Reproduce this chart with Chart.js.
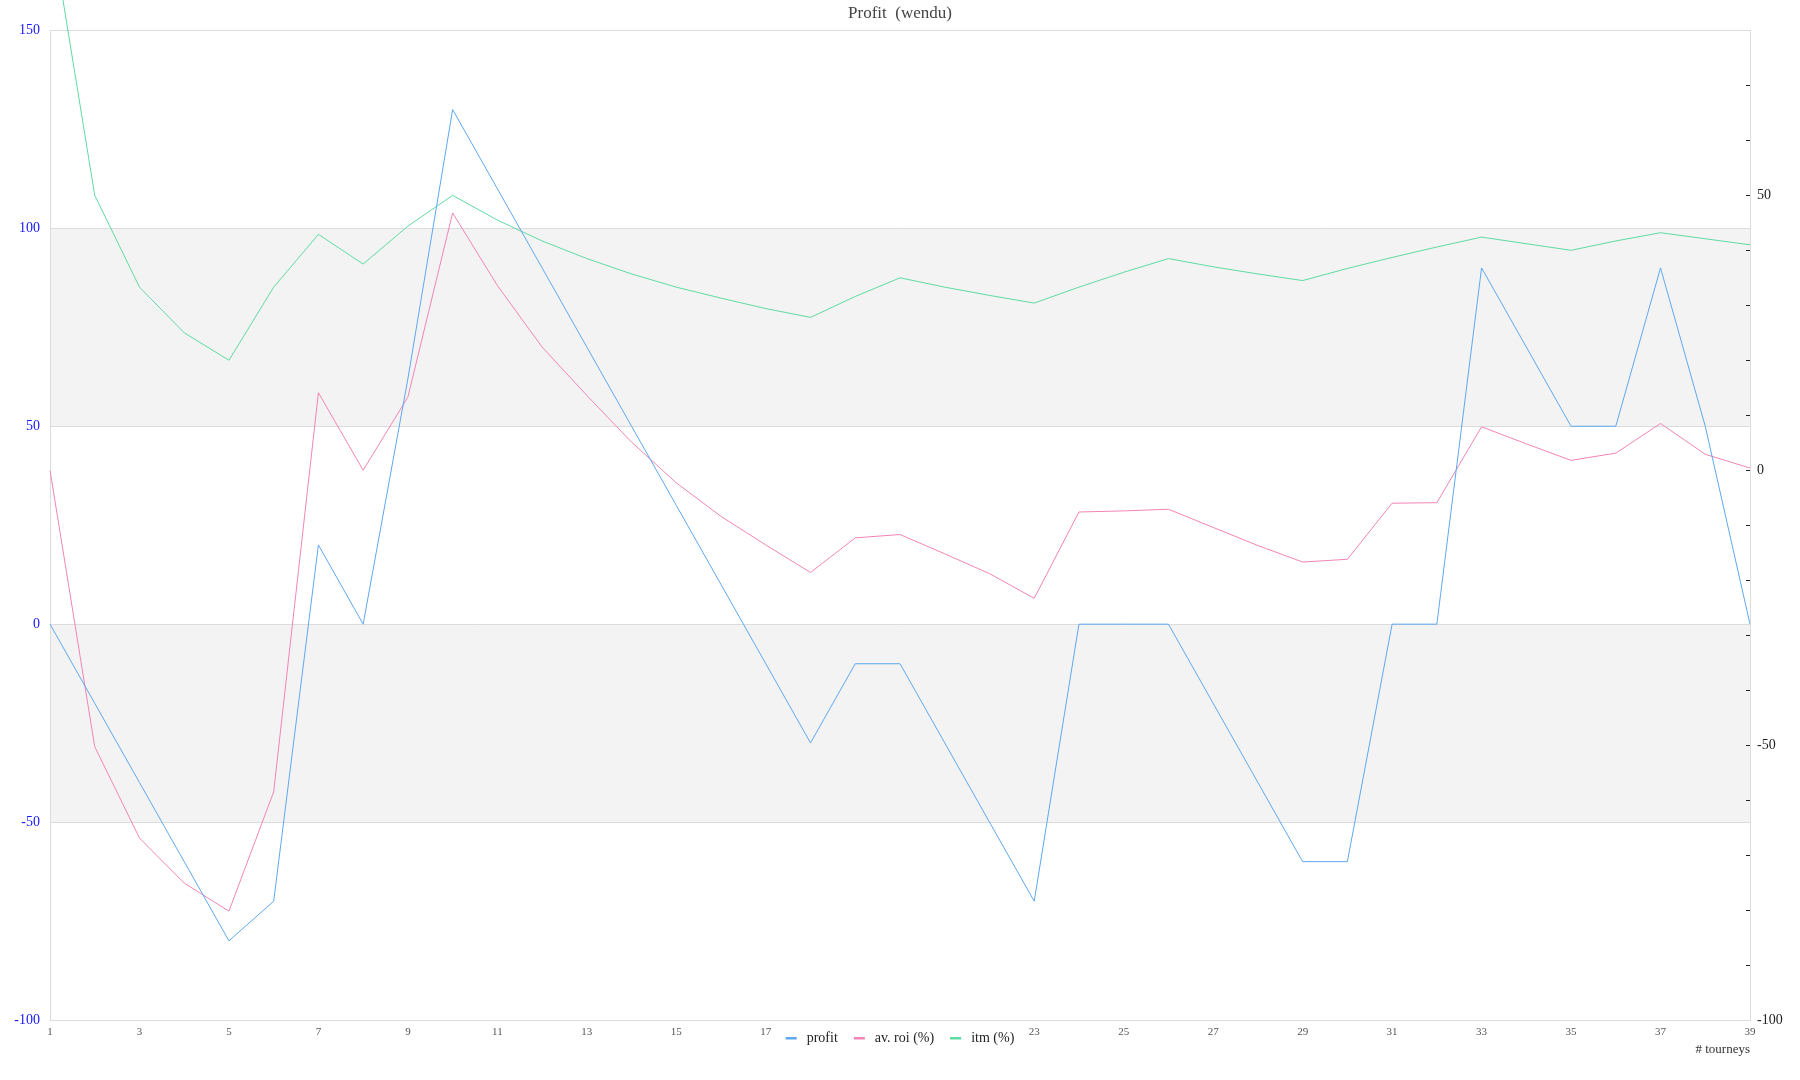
<!DOCTYPE html>
<html lang="en">
<head>
  <meta charset="UTF-8">
  <title>Profit (wendu)</title>
  <!-- Chart.js (via CDN) -->
  <script src="https://cdn.jsdelivr.net/npm/chart.js"></script>
  <style>
    html, body { margin: 0; padding: 0; background: #fff; }
  </style>
</head>
<body>
  <canvas id="profitChart" width="1800" height="1080"></canvas>

  <script>
    // Tourney numbers along the x axis.
    const tourneys = ['1', '2', '3', '4', '5', '6', '7', '8', '9', '10',
      '11', '12', '13', '14', '15', '16', '17', '18', '19', '20',
      '21', '22', '23', '24', '25', '26', '27', '28', '29', '30',
      '31', '32', '33', '34', '35', '36', '37', '38', '39'];

    // Cumulative profit (left axis).
    const profit = [0, -20, -40, -60, -80, -70, 20, 0, 62, 130,
      110, 90, 70, 50, 30, 10, -10, -30, -10, -10,
      -30, -50, -70, 0, 0, 0, -20, -40, -60, -60,
      0, 0, 90, 70, 50, 50, 90, 50, 0];

    // Average ROI in % (right axis).
    const avRoi = [0, -50.3, -66.9, -75.1, -80.2, -58.5, 14.1, 0, 13.3, 46.8,
      33.6, 22.4, 13.6, 5.1, -2.3, -8.4, -13.6, -18.6, -12.3, -11.7,
      -15.2, -18.8, -23.3, -7.6, -7.4, -7.1, -10.4, -13.7, -16.7, -16.2,
      -6.0, -5.9, 7.9, 4.8, 1.8, 3.1, 8.5, 2.9, 0.4];

    // In the money in % (right axis).
    const itm = [100, 50, 33.3, 25, 20, 33.3, 42.9, 37.5, 44.4, 50,
      45.5, 41.7, 38.5, 35.7, 33.3, 31.3, 29.4, 27.8, 31.6, 35,
      33.3, 31.8, 30.4, 33.3, 36, 38.5, 37, 35.7, 34.5, 36.7,
      38.7, 40.6, 42.4, 41.2, 40, 41.7, 43.2, 42.1, 41];

    const seriesColors = { profit: '#5ea8ef', roi: '#f284b6', itm: '#5edba2' };

    Chart.defaults.font.family = '"Liberation Serif", "DejaVu Serif", serif';

    // White background plus grey bands between every other left-axis tick.
    const bandPlugin = {
      id: 'bands',
      beforeDraw(chart) {
        const { ctx, chartArea } = chart;
        const y = chart.scales.y;
        ctx.save();
        ctx.fillStyle = '#fff';
        ctx.fillRect(0, 0, chart.width, chart.height);
        ctx.fillStyle = '#f3f3f3';
        for (let i = 1; i < y.ticks.length - 1; i += 2) {
          const top = y.getPixelForValue(y.ticks[i + 1].value);
          const bottom = y.getPixelForValue(y.ticks[i].value);
          ctx.fillRect(chartArea.left, top, chartArea.right - chartArea.left, bottom - top);
        }
        ctx.restore();
      }
    };

    // Short tick marks on the inner side of the right axis.
    const innerTickPlugin = {
      id: 'innerTicks',
      afterDatasetsDraw(chart) {
        const { ctx, chartArea } = chart;
        const y1 = chart.scales.y1;
        ctx.save();
        ctx.strokeStyle = '#222';
        ctx.lineWidth = 1;
        y1.ticks.forEach(t => {
          if (t.value <= y1.min || t.value >= y1.max) return;
          const py = Math.round(y1.getPixelForValue(t.value)) + 0.5;
          ctx.beginPath();
          ctx.moveTo(chartArea.right - 4, py);
          ctx.lineTo(chartArea.right, py);
          ctx.stroke();
        });
        ctx.restore();
      }
    };

    // Legend drawn in the tick-label row, centred under the plot.
    const legendPlugin = {
      id: 'rowLegend',
      afterDraw(chart) {
        const { ctx, chartArea } = chart;
        ctx.save();
        ctx.font = '14px "Liberation Serif", serif';
        const items = chart.data.datasets.map(ds => ({
          label: ds.label, color: ds.borderColor, w: ctx.measureText(ds.label).width
        }));
        const swatch = 11, gap = 10, space = 16;
        const total = items.reduce((s, it) => s + swatch + gap + it.w, 0) + space * (items.length - 1);
        let x = (chartArea.left + chartArea.right) / 2 - total / 2;
        const y = chartArea.bottom + 18;
        ctx.fillStyle = '#fff';
        ctx.fillRect(x - 8, chartArea.bottom + 3, total + 16, 26);
        ctx.textBaseline = 'middle';
        items.forEach(it => {
          ctx.fillStyle = it.color;
          ctx.fillRect(x, y - 1, swatch, 2.5);
          x += swatch + gap;
          ctx.fillStyle = '#222';
          ctx.fillText(it.label, x, y);
          x += it.w + space;
        });
        ctx.restore();
      }
    };

    const ctx = document.getElementById('profitChart').getContext('2d');
    new Chart(ctx, {
      type: 'line',
      data: {
        labels: tourneys,
        datasets: [
          {
            label: 'profit',
            data: profit,
            yAxisID: 'y',
            borderColor: seriesColors.profit,
            backgroundColor: seriesColors.profit,
            borderWidth: 1,
            pointRadius: 0,
            tension: 0
          },
          {
            label: 'av. roi (%)',
            data: avRoi,
            yAxisID: 'y1',
            borderColor: seriesColors.roi,
            backgroundColor: seriesColors.roi,
            borderWidth: 1,
            pointRadius: 0,
            tension: 0
          },
          {
            label: 'itm (%)',
            data: itm,
            yAxisID: 'y1',
            borderColor: seriesColors.itm,
            backgroundColor: seriesColors.itm,
            borderWidth: 1,
            pointRadius: 0,
            tension: 0,
            clip: false
          }
        ]
      },
      options: {
        responsive: false,
        animation: false,
        layout: { padding: 0 },
        plugins: {
          legend: { display: false },
          tooltip: { enabled: false },
          title: {
            display: true,
            text: 'Profit  (wendu)',
            color: '#444',
            font: { size: 17, weight: 'normal' },
            padding: { top: 3, bottom: 7 }
          }
        },
        scales: {
          x: {
            offset: false,
            grid: { display: false, drawTicks: false },
            border: { display: true, color: '#dcdcdc' },
            ticks: {
              autoSkip: false,
              maxRotation: 0,
              padding: 6,
              color: '#555',
              font: { size: 11 },
              callback: function (value, index) {
                return index % 2 === 0 ? this.getLabelForValue(value) : '';
              }
            },
            title: {
              display: true,
              text: '# tourneys',
              align: 'end',
              color: '#333',
              font: { size: 13 },
              padding: { top: 0, bottom: 23 }
            },
            afterFit(scale) { scale.height = 60; }
          },
          y: {
            position: 'left',
            min: -100,
            max: 150,
            ticks: {
              stepSize: 50,
              padding: 10,
              color: '#1515ff',
              font: { size: 14 }
            },
            grid: { color: '#dcdcdc', drawTicks: false },
            border: { color: '#dcdcdc' },
            afterFit(scale) { scale.width = 50; }
          },
          y1: {
            position: 'right',
            min: -100,
            max: 80,
            ticks: {
              stepSize: 10,
              padding: 7,
              color: '#222',
              font: { size: 14 },
              callback: value => (value % 50 === 0 ? value : '')
            },
            grid: { drawOnChartArea: false, drawTicks: false },
            border: { color: '#dcdcdc' },
            afterFit(scale) { scale.width = 50; }
          }
        }
      },
      plugins: [bandPlugin, innerTickPlugin, legendPlugin]
    });
  </script>
</body>
</html>
